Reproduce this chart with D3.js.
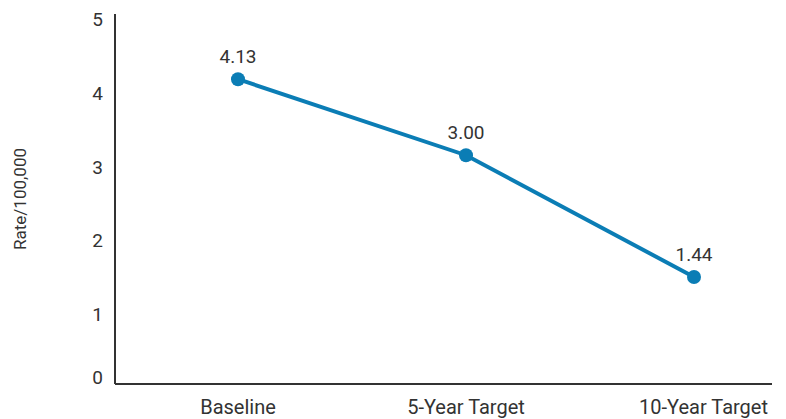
<!DOCTYPE html>
<html><head><meta charset="utf-8">
<script src="https://cdn.jsdelivr.net/npm/d3@7"></script>
<style>html,body{margin:0;padding:0;background:#fff;}svg{display:block;font-family:Roboto,"Noto Sans",sans-serif;}</style>
</head><body><svg id="c" width="786" height="419"></svg>
<script>
const categories = ["Baseline", "5-Year Target", "10-Year Target"];
const values = [4.13, 3.10, 1.45];
const valueLabels = ["4.13", "3.00", "1.44"];
const yTicks = [0, 1, 2, 3, 4, 5];
const yTitle = "Rate/100,000";

const W = 786, H = 419;
const m = {left: 115, right: 14, top: 14, bottom: 35};
const svg = d3.select("#c");
const textColor = "#333333", lineColor = "#0b7db5";

const y = d3.scaleLinear().domain([0, 5]).range([H - m.bottom, m.top + 1]);
const x = d3.scalePoint().domain(categories).range([m.left + 123, W - m.right - 78]);

// axes lines
svg.append("line").attr("x1", m.left).attr("x2", m.left).attr("y1", m.top).attr("y2", H - m.bottom)
  .attr("stroke", "#333").attr("stroke-width", 2);
svg.append("line").attr("x1", m.left).attr("x2", W - m.right).attr("y1", H - m.bottom).attr("y2", H - m.bottom)
  .attr("stroke", "#333").attr("stroke-width", 2);

// y tick labels
svg.selectAll("text.yt").data(yTicks).enter().append("text")
  .attr("class", "yt")
  .attr("x", m.left - 12)
  .attr("y", d => d === 0 ? y(d) : y(d) + 11)
  .attr("text-anchor", "end")
  .attr("font-size", 19).attr("fill", textColor)
  .text(d => d);

// y title
svg.append("text")
  .attr("transform", `translate(26,${(m.top + H - m.bottom) / 2}) rotate(-90)`)
  .attr("text-anchor", "middle")
  .attr("font-size", 17).attr("fill", textColor)
  .text(yTitle);

// x labels
const lastCat = categories[categories.length - 1];
svg.selectAll("text.xl").data(categories).enter().append("text")
  .attr("class", "xl")
  .attr("x", d => d === lastCat ? W - m.right - 4 : x(d)).attr("y", H - 5)
  .attr("text-anchor", d => d === lastCat ? "end" : "middle")
  .attr("font-size", 20).attr("fill", textColor)
  .text(d => d);

// line
const pts = categories.map((c, i) => ({c, v: values[i], l: valueLabels[i]}));
svg.append("path").datum(pts)
  .attr("fill", "none").attr("stroke", lineColor).attr("stroke-width", 4)
  .attr("d", d3.line().x(d => x(d.c)).y(d => y(d.v)));
svg.selectAll("circle").data(pts).enter().append("circle")
  .attr("cx", d => x(d.c)).attr("cy", d => y(d.v)).attr("r", 7)
  .attr("fill", lineColor);
svg.selectAll("text.vl").data(pts).enter().append("text")
  .attr("class", "vl")
  .attr("x", d => x(d.c)).attr("y", d => y(d.v) - 16)
  .attr("text-anchor", "middle")
  .attr("font-size", 19).attr("fill", textColor)
  .text(d => d.l);
</script></body></html>
